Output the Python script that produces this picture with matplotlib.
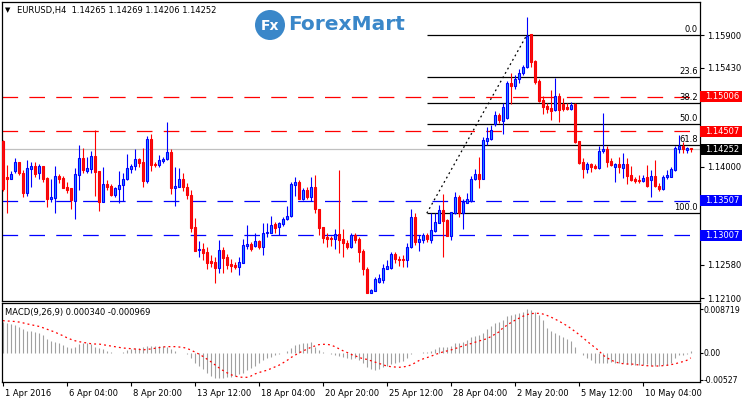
import matplotlib
matplotlib.use("Agg")
import matplotlib.pyplot as plt
import matplotlib.transforms as mtransforms
from matplotlib.patches import Rectangle, Ellipse
import numpy as np

# EURUSD H4 candles (index = bar number)
opens = [1.14369, 1.13853, 1.13815, 1.13940, 1.14065, 1.13906, 1.13622, 1.13969, 1.14007, 1.13901,
         1.14007, 1.13834, 1.13535, 1.13545, 1.13863, 1.13834, 1.13704, 1.13684, 1.13506, 1.13882,
         1.14118, 1.13935, 1.13969, 1.14152, 1.13935, 1.13492, 1.13747, 1.13718, 1.13588, 1.13680,
         1.13733, 1.13815, 1.13969, 1.14007, 1.14108, 1.14065, 1.13795, 1.14397, 1.14036, 1.14026,
         1.14084, 1.14104, 1.14210, 1.13694, 1.13709, 1.13819, 1.13709, 1.13593, 1.13131, 1.12793,
         1.12803, 1.12764, 1.12629, 1.12620, 1.12538, 1.12793, 1.12697, 1.12591, 1.12577, 1.12553,
         1.12610, 1.12856, 1.12880, 1.12856, 1.12923, 1.12832, 1.13035, 1.13044, 1.13169, 1.13121,
         1.13169, 1.13237, 1.13289, 1.13737, 1.13776, 1.13535, 1.13660, 1.13564, 1.13704, 1.13386,
         1.13121, 1.12986, 1.12972, 1.12948, 1.13025, 1.12952, 1.12900, 1.12832, 1.13015, 1.12948,
         1.12784, 1.12519, 1.12177, 1.12206, 1.12331, 1.12360, 1.12524, 1.12533, 1.12736, 1.12668,
         1.12663, 1.12649, 1.12832, 1.13270, 1.12914, 1.12938, 1.13005, 1.12938, 1.13073, 1.13188,
         1.13366, 1.13227, 1.13001, 1.13323, 1.13554, 1.13323, 1.13477, 1.13497, 1.13815, 1.13892,
         1.13824, 1.14373, 1.14402, 1.14614, 1.14744, 1.14662, 1.14696, 1.15201, 1.15163, 1.15259,
         1.15346, 1.15433, 1.15909, 1.15524, 1.15240, 1.14960, 1.14874, 1.14850, 1.14816, 1.15018,
         1.14903, 1.14864, 1.14835, 1.14903, 1.14368, 1.14069, 1.13968, 1.14031, 1.14011, 1.13983,
         1.14219, 1.14252, 1.14084, 1.13997, 1.14031, 1.13973, 1.14040, 1.13877, 1.13814, 1.13809,
         1.13795, 1.13843, 1.13804, 1.13867, 1.13718, 1.13679, 1.13843, 1.13853, 1.13949, 1.14257,
         1.14296, 1.14238, 1.14265]
highs = [1.14383, 1.14022, 1.13935, 1.14118, 1.14070, 1.13949, 1.14094, 1.14070, 1.14065, 1.14036,
         1.14012, 1.13843, 1.13824, 1.14007, 1.13892, 1.13863, 1.13776, 1.13690, 1.13978, 1.14311,
         1.14263, 1.14142, 1.14229, 1.14527, 1.13940, 1.13998, 1.13805, 1.13747, 1.13709, 1.13940,
         1.13901, 1.14181, 1.14036, 1.14253, 1.14118, 1.14263, 1.14441, 1.14470, 1.14065, 1.14161,
         1.14142, 1.14648, 1.14248, 1.13998, 1.13978, 1.13911, 1.13757, 1.13660, 1.13256, 1.12919,
         1.12900, 1.12842, 1.12716, 1.12697, 1.12938, 1.12842, 1.12736, 1.12658, 1.12620, 1.12697,
         1.12947, 1.13155, 1.12914, 1.13044, 1.12938, 1.13179, 1.13179, 1.13284, 1.13203, 1.13198,
         1.13265, 1.13429, 1.13781, 1.13843, 1.13805, 1.13694, 1.13699, 1.13843, 1.13877, 1.13390,
         1.13125, 1.13044, 1.12996, 1.13092, 1.13949, 1.13092, 1.12938, 1.13034, 1.13044, 1.12986,
         1.12803, 1.12543, 1.12225, 1.12408, 1.12447, 1.12591, 1.12649, 1.12764, 1.12764, 1.12707,
         1.12716, 1.12890, 1.13381, 1.13323, 1.13010, 1.13044, 1.13034, 1.13323, 1.13323, 1.13439,
         1.13603, 1.13237, 1.13347, 1.13631, 1.13588, 1.13525, 1.13612, 1.13863, 1.13969, 1.14133,
         1.14421, 1.14576, 1.14600, 1.14806, 1.14768, 1.14912, 1.15240, 1.15346, 1.15317, 1.15413,
         1.15471, 1.16165, 1.15914, 1.15538, 1.15259, 1.15018, 1.14912, 1.15105, 1.15283, 1.15057,
         1.14989, 1.14922, 1.14932, 1.14912, 1.14373, 1.14127, 1.14069, 1.14055, 1.14036, 1.14296,
         1.14768, 1.14301, 1.14117, 1.14045, 1.14132, 1.14190, 1.14122, 1.14007, 1.13853, 1.13877,
         1.13877, 1.14021, 1.13949, 1.14093, 1.13756, 1.13872, 1.13949, 1.13997, 1.14296, 1.14455,
         1.14358, 1.14286, 1.14269]
lows = [1.13651, 1.13333, 1.13815, 1.13901, 1.13877, 1.13564, 1.13574, 1.13709, 1.13853, 1.13824,
        1.13781, 1.13420, 1.13492, 1.13333, 1.13766, 1.13684, 1.13622, 1.13391, 1.13241, 1.13660,
        1.13901, 1.13901, 1.13911, 1.13574, 1.13362, 1.13492, 1.13660, 1.13574, 1.13564, 1.13477,
        1.13497, 1.13805, 1.13911, 1.13949, 1.13998, 1.13709, 1.13766, 1.13940, 1.13998, 1.13988,
        1.14046, 1.14094, 1.13603, 1.13434, 1.13699, 1.13651, 1.13525, 1.13053, 1.12784, 1.12697,
        1.12649, 1.12524, 1.12553, 1.12321, 1.12466, 1.12456, 1.12514, 1.12476, 1.12524, 1.12437,
        1.12600, 1.12813, 1.12779, 1.12842, 1.12803, 1.12716, 1.12986, 1.13035, 1.13035, 1.13005,
        1.13140, 1.13227, 1.13275, 1.13574, 1.13525, 1.13516, 1.13525, 1.13497, 1.13333, 1.13010,
        1.12890, 1.12842, 1.12851, 1.12813, 1.12745, 1.12687, 1.12803, 1.12818, 1.12900, 1.12625,
        1.12432, 1.12167, 1.12167, 1.12201, 1.12321, 1.12321, 1.12514, 1.12524, 1.12601, 1.12562,
        1.12543, 1.12543, 1.12818, 1.12866, 1.12784, 1.12900, 1.12914, 1.12900, 1.13054, 1.13179,
        1.12697, 1.12996, 1.12938, 1.13313, 1.13275, 1.13092, 1.13468, 1.13492, 1.13805, 1.13684,
        1.13815, 1.14311, 1.14383, 1.14585, 1.14623, 1.14469, 1.14681, 1.14903, 1.15124, 1.15201,
        1.15317, 1.15423, 1.15442, 1.15192, 1.14936, 1.14758, 1.14768, 1.14671, 1.14806, 1.14647,
        1.14806, 1.14816, 1.14816, 1.14344, 1.14036, 1.13838, 1.13910, 1.13920, 1.13958, 1.13968,
        1.14200, 1.13997, 1.14007, 1.13780, 1.13901, 1.13829, 1.13742, 1.13795, 1.13766, 1.13756,
        1.13775, 1.13708, 1.13563, 1.13708, 1.13641, 1.13660, 1.13814, 1.13843, 1.13939, 1.14200,
        1.14190, 1.14200, 1.14206]
closes = [1.13670, 1.13815, 1.13892, 1.14065, 1.13901, 1.13622, 1.13978, 1.14007, 1.13892, 1.14007,
          1.13824, 1.13535, 1.13564, 1.13863, 1.13824, 1.13694, 1.13660, 1.13516, 1.13892, 1.14118,
          1.13949, 1.13978, 1.14152, 1.13925, 1.13492, 1.13747, 1.13709, 1.13588, 1.13689, 1.13733,
          1.13824, 1.13973, 1.14007, 1.14108, 1.14055, 1.13795, 1.14397, 1.14026, 1.14017, 1.14094,
          1.14113, 1.14210, 1.13694, 1.13718, 1.13819, 1.13699, 1.13588, 1.13116, 1.12784, 1.12813,
          1.12755, 1.12610, 1.12601, 1.12538, 1.12793, 1.12683, 1.12581, 1.12562, 1.12553, 1.12620,
          1.12866, 1.12880, 1.12813, 1.12923, 1.12842, 1.13035, 1.13059, 1.13155, 1.13116, 1.13188,
          1.13237, 1.13284, 1.13747, 1.13776, 1.13535, 1.13660, 1.13564, 1.13704, 1.13381, 1.13116,
          1.12972, 1.12957, 1.12948, 1.13025, 1.12938, 1.12900, 1.12832, 1.13015, 1.12938, 1.12769,
          1.12514, 1.12177, 1.12215, 1.12374, 1.12384, 1.12533, 1.12562, 1.12736, 1.12668, 1.12649,
          1.12649, 1.12832, 1.13270, 1.12914, 1.12948, 1.13005, 1.12948, 1.13083, 1.13198, 1.13366,
          1.13217, 1.13001, 1.13338, 1.13554, 1.13323, 1.13492, 1.13525, 1.13824, 1.13892, 1.13824,
          1.14383, 1.14412, 1.14527, 1.14744, 1.14671, 1.14854, 1.15201, 1.15163, 1.15264, 1.15346,
          1.15442, 1.15890, 1.15514, 1.15225, 1.14951, 1.14864, 1.14826, 1.14806, 1.15018, 1.14816,
          1.14826, 1.14826, 1.14883, 1.14358, 1.14045, 1.13968, 1.14031, 1.13997, 1.13983, 1.14219,
          1.14252, 1.14069, 1.14016, 1.14031, 1.13997, 1.14040, 1.13867, 1.13804, 1.13790, 1.13795,
          1.13833, 1.13718, 1.13867, 1.13718, 1.13670, 1.13853, 1.13877, 1.13958, 1.14267, 1.14301,
          1.14257, 1.14272, 1.14252]

# MACD(9,26,9): main line (histogram) and signal line
macd_main = [0.00621, 0.00588, 0.00575, 0.00562, 0.00522, 0.00469, 0.00443, 0.00429, 0.00410, 0.00390,
             0.00350, 0.00284, 0.00244, 0.00211, 0.00192, 0.00165, 0.00126, 0.00092, 0.00126, 0.00172,
             0.00192, 0.00192, 0.00172, 0.00126, 0.00092, 0.00073, 0.00040, 0.00013, -0.00007, 0.00007,
             0.00020, 0.00059, 0.00073, 0.00092, 0.00106, 0.00112, 0.00139, 0.00145, 0.00139, 0.00145,
             0.00139, 0.00126, 0.00086, 0.00040, 0.00007, -0.00007, -0.00020, -0.00106, -0.00192, -0.00258,
             -0.00324, -0.00403, -0.00456, -0.00495, -0.00502, -0.00489, -0.00482, -0.00482, -0.00456, -0.00416,
             -0.00403, -0.00337, -0.00304, -0.00258, -0.00192, -0.00139, -0.00106, -0.00073, -0.00046, -0.00020,
             0.00007, 0.00046, 0.00092, 0.00159, 0.00178, 0.00192, 0.00205, 0.00218, 0.00126, 0.00059,
             0.00026, -0.00007, -0.00020, -0.00040, -0.00053, -0.00073, -0.00092, -0.00126, -0.00106, -0.00139,
             -0.00205, -0.00284, -0.00324, -0.00337, -0.00324, -0.00284, -0.00258, -0.00218, -0.00192, -0.00172,
             -0.00152, -0.00106, -0.00020, -0.00007, 0.00007, 0.00020, 0.00026, 0.00046, 0.00073, 0.00112,
             0.00126, 0.00126, 0.00139, 0.00192, 0.00205, 0.00225, 0.00258, 0.00310, 0.00337, 0.00357,
             0.00403, 0.00469, 0.00535, 0.00588, 0.00608, 0.00654, 0.00733, 0.00760, 0.00773, 0.00799,
             0.00819, 0.008719, 0.00852, 0.00813, 0.00753, 0.00654, 0.00489, 0.00443, 0.00403, 0.00357,
             0.00310, 0.00271, 0.00244, 0.00126, 0.00007, -0.00040, -0.00106, -0.00139, -0.00192, -0.00192,
             -0.00192, -0.00192, -0.00172, -0.00192, -0.00205, -0.00205, -0.00218, -0.00238, -0.00238, -0.00238,
             -0.00238, -0.00218, -0.00258, -0.00258, -0.00258, -0.00238, -0.00238, -0.00192, -0.00106, -0.00040,
             -0.00040, -0.00020, 0.000340]
macd_signal = [0.00641, 0.00634, 0.00631, 0.00624, 0.00614, 0.00598, 0.00578, 0.00562, 0.00548, 0.00528,
               0.00502, 0.00472, 0.00443, 0.00416, 0.00377, 0.00344, 0.00304, 0.00271, 0.00244, 0.00225,
               0.00211, 0.00195, 0.00185, 0.00178, 0.00178, 0.00165, 0.00152, 0.00139, 0.00126, 0.00112,
               0.00099, 0.00092, 0.00086, 0.00079, 0.00073, 0.00059, 0.00073, 0.00079, 0.00092, 0.00106,
               0.00119, 0.00126, 0.00126, 0.00126, 0.00119, 0.00112, 0.00092, 0.00059, 0.00020, -0.00020,
               -0.00066, -0.00119, -0.00172, -0.00231, -0.00291, -0.00344, -0.00390, -0.00429, -0.00456, -0.00476,
               -0.00482, -0.00482, -0.00459, -0.00416, -0.00390, -0.00363, -0.00344, -0.00310, -0.00277, -0.00244,
               -0.00198, -0.00152, -0.00092, -0.00046, 0.00000, 0.00040, 0.00073, 0.00112, 0.00139, 0.00165,
               0.00172, 0.00172, 0.00159, 0.00126, 0.00086, 0.00046, 0.00013, -0.00026, -0.00053, -0.00086,
               -0.00112, -0.00126, -0.00152, -0.00178, -0.00205, -0.00231, -0.00258, -0.00271, -0.00277, -0.00284,
               -0.00277, -0.00264, -0.00238, -0.00198, -0.00152, -0.00119, -0.00092, -0.00066, -0.00033, -0.00007,
               0.00020, 0.00040, 0.00059, 0.00086, 0.00112, 0.00139, 0.00165, 0.00185, 0.00211, 0.00238,
               0.00258, 0.00284, 0.00324, 0.00370, 0.00416, 0.00495, 0.00548, 0.00601, 0.00647, 0.00687,
               0.00727, 0.00760, 0.00780, 0.00786, 0.00786, 0.00773, 0.00746, 0.00713, 0.00674, 0.00634,
               0.00588, 0.00542, 0.00489, 0.00429, 0.00370, 0.00304, 0.00238, 0.00172, 0.00112, 0.00046,
               -0.00040, -0.00092, -0.00139, -0.00172, -0.00198, -0.00211, -0.00218, -0.00218, -0.00225, -0.00238,
               -0.00244, -0.00251, -0.00258, -0.00258, -0.00258, -0.00251, -0.00244, -0.00231, -0.00218, -0.00192,
               -0.00172, -0.00145, -0.000969]

date_labels = ["1 Apr 2016", "6 Apr 04:00", "8 Apr 20:00", "13 Apr 12:00", "18 Apr 04:00",
               "20 Apr 20:00", "25 Apr 12:00", "28 Apr 04:00", "2 May 20:00", "5 May 12:00",
               "10 May 04:00"]
price_ticks = [1.15900, 1.15430, 1.14950, 1.14470, 1.14000, 1.13520, 1.13040, 1.12580, 1.12100]
price_tick_labels = ["1.15900", "1.15430", "", "", "1.14000", "", "", "1.12580", "1.12100"]
resistance = [1.15006, 1.14507]
support = [1.13507, 1.13007]
last_price = 1.14252
fib_start, fib_end = 106, 131
fib_low, fib_high = 1.13325, 1.15900
fib_levels = [0.0, 23.6, 38.2, 50.0, 61.8, 100.0]

W, H = 742, 399
plt.rcParams["font.family"] = "DejaVu Sans"
plt.rcParams["font.size"] = 6
fig = plt.figure(figsize=(W / 100, H / 100), dpi=100)
ax = fig.add_axes([2 / W, 98 / H, 698 / W, 299 / H])
mx = fig.add_axes([2 / W, 17 / H, 698 / W, 79 / H])

x = np.arange(len(closes))
o, hi, lo, c = map(np.array, (opens, highs, lows, closes))
up = c >= o

# candles
ax.vlines(x[up], lo[up], hi[up], color="#0000ff", lw=0.8, zorder=3)
ax.vlines(x[~up], lo[~up], hi[~up], color="#ff0000", lw=0.8, zorder=3)
bottom = np.minimum(o, c)
height = np.maximum(np.abs(c - o), 0.00003)
ax.bar(x[up], height[up], 0.45, bottom=bottom[up], color="#1e90ff", edgecolor="#0000ff", lw=0.8, zorder=4)
ax.bar(x[~up], height[~up], 0.45, bottom=bottom[~up], color="#e8141e", edgecolor="#ff0000", lw=0.8, zorder=4)

# levels
for p in resistance:
    ax.axhline(p, color="#ff0000", lw=0.9, dashes=(12.5, 9), zorder=2)
for p in support:
    ax.axhline(p, color="#0000ff", lw=0.9, dashes=(12.5, 9), zorder=2)
ax.axhline(last_price, color="#c0c0c0", lw=0.9, zorder=1)

# fibonacci
xmax = 174.3
for lv in fib_levels:
    p = fib_high - (fib_high - fib_low) * lv / 100
    ax.hlines(p, fib_start, xmax, color="black", lw=0.9, zorder=2)
    ax.text(0.997, p + 0.00012, "%.1f" % lv, transform=ax.get_yaxis_transform(),
            ha="right", va="bottom", fontsize=6, color="black")
ax.plot([fib_start, fib_end], [fib_low, fib_high], color="black", lw=0.9, dashes=(1.5, 2.5))

ax.set_xlim(-0.2, xmax)
ax.set_ylim(1.12057, 1.16377)
ax.set_xticks([])
ax.yaxis.tick_right()
ax.set_yticks(price_ticks)
ax.set_yticklabels(price_tick_labels)
ax.tick_params(axis="y", direction="out", length=3, width=0.8, pad=2, labelsize=6)

# price labels on the axis
boxes = [(resistance[0], "#ff0000"), (resistance[1], "#ff0000"), (last_price, "black"),
         (support[0], "#0000ff"), (support[1], "#0000ff")]
for p, fc in boxes:
    ax.add_patch(Rectangle((1.0, p - 0.00079), 0.065, 0.00158, transform=ax.get_yaxis_transform(),
                           fc=fc, ec="none", clip_on=False, zorder=10))
    ax.text(1.0075, p, "%.5f" % p, transform=ax.get_yaxis_transform(), ha="left", va="center",
            color="white", fontsize=6, zorder=11, clip_on=False)

# MACD
mx.vlines(x, 0, macd_main, color="#a0a0a0", lw=0.8)
mx.plot(x, macd_signal, color="#ff0000", lw=0.9, dashes=(1.5, 2.5))
mx.set_xlim(-0.2, xmax)
mx.set_ylim(-0.00575, 0.00991)
mx.yaxis.tick_right()
mx.set_yticks([0.008719, 0.0, -0.00527])
mx.set_yticklabels(["0.008719", "0.00", "-0.00527"])
mx.tick_params(axis="y", direction="out", length=2, width=0.8, pad=0.8, labelsize=5.6)
mx.set_xticks(range(0, 161, 16))
mx.set_xticklabels(date_labels)
mx.tick_params(axis="x", direction="out", length=3, width=0.8, pad=2, labelsize=6)
shift = mtransforms.ScaledTranslation(2 / 100, 0, fig.dpi_scale_trans)
for lbl in mx.get_xticklabels():
    lbl.set_ha("left")
    lbl.set_transform(lbl.get_transform() + shift)

for a in (ax, mx):
    for s in a.spines.values():
        s.set_linewidth(0.9)
        s.set_color("black")

# texts
fig.text(5 / W, 1 - 10 / H, "\u25bc", fontsize=5, va="center")
fig.text(17 / W, 1 - 10 / H, "EURUSD,H4  1.14265 1.14269 1.14206 1.14252", fontsize=6, va="center")
fig.text(5 / W, 1 - 313 / H, "MACD(9,26,9) 0.000340 -0.000969", fontsize=6, va="center")

# logo
fig.patches.append(Ellipse((270 / W, 1 - 25 / H), 30 / W, 30 / H, transform=fig.transFigure,
                           fc="#3a87c9", ec="none", zorder=20))
fig.text(270 / W, 1 - 26 / H, "Fx", fontsize=10, color="white", weight="bold",
         ha="center", va="center", zorder=21)
fig.text(288 / W, 1 - 25 / H, "ForexMart", fontsize=14.5, color="#3a87c9", weight="bold",
         ha="left", va="center", zorder=21)

fig.savefig("out.png", dpi=100)
